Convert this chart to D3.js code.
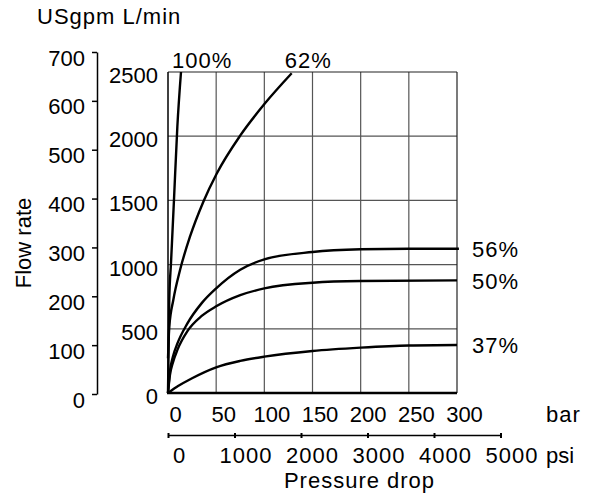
<!DOCTYPE html>
<html>
<head>
<meta charset="utf-8">
<script src="https://cdn.jsdelivr.net/npm/d3@7"></script>
<style>
  body { margin: 0; background: #fff; }
  text { font-family: "Liberation Sans", Arial, sans-serif; font-size: 22px; fill: #000; }
</style>
</head>
<body>
<svg id="chart" width="593" height="495"></svg>
<script>
// tick values for the four scales
const barTicks = [0, 50, 100, 150, 200, 250, 300];
const flowTicks = [0, 500, 1000, 1500, 2000, 2500];
const gpmTicks = [0, 100, 200, 300, 400, 500, 600, 700];
const psiTicks = [0, 1000, 2000, 3000, 4000, 5000];

// curves: pressure drop (bar) -> flow rate (L/min)
const bar100 = [0, 1.3, 3.1, 6.2, 9.7, 13.5];
const flow100 = [0, 724, 1010, 1503, 2074, 2500];
const bar62 = [0, 1.35, 5.5, 12.5, 22.8, 36.7, 50.5, 74.7, 100.7, 128.4];
const flow62 = [270, 516, 724, 958, 1217, 1490, 1708, 2002, 2256, 2490];
const bar56 = [0, 2, 5, 10, 20, 35, 50, 75, 100, 150, 200, 250, 302];
const flow56 = [0, 170, 280, 390, 540, 700, 815, 960, 1041, 1098, 1119, 1124, 1124];
const bar50 = [0, 2, 5, 10, 20, 35, 50, 75, 100, 150, 200, 300];
const flow50 = [0, 140, 235, 340, 480, 600, 675, 762, 815, 859, 872, 877];
const bar37 = [0, 5, 10, 25, 50, 75, 100, 150, 200, 250, 300];
const flow37 = [0, 28, 52, 115, 200, 250, 283, 327, 353, 370, 374];
const curveNames = ["100%", "62%", "56%", "50%", "37%"];

const svg = d3.select("#chart");

const x = d3.scaleLinear().domain([0, 300]).range([168, 457]);
const y = d3.scaleLinear().domain([0, 2500]).range([393, 72]);
const yGpm = d3.scaleLinear().domain([0, 700]).range([394, 52]);
const xPsi = d3.scaleLinear().domain([0, 5000]).range([168, 500.5]);
const plain = d => d;

// grid
svg.append("g").selectAll("line")
    .data(barTicks.slice(1, -1))
    .join("line")
    .attr("x1", d => x(d)).attr("x2", d => x(d))
    .attr("y1", y(0)).attr("y2", y(2500))
    .attr("stroke", "#555").attr("stroke-width", 1.2);
svg.append("g").selectAll("line")
    .data(flowTicks.slice(1, -1))
    .join("line")
    .attr("x1", x(0)).attr("x2", x(300))
    .attr("y1", d => y(d)).attr("y2", d => y(d))
    .attr("stroke", "#555").attr("stroke-width", 1.2);

// frame
svg.append("line").attr("x1", x(0)).attr("x2", x(300)).attr("y1", y(2500)).attr("y2", y(2500))
    .attr("stroke", "#222").attr("stroke-width", 1.2);
svg.append("line").attr("x1", x(300)).attr("x2", x(300)).attr("y1", y(0)).attr("y2", y(2500))
    .attr("stroke", "#222").attr("stroke-width", 1.2);
svg.append("line").attr("x1", x(0)).attr("x2", x(0)).attr("y1", y(0)).attr("y2", y(2500))
    .attr("stroke", "#000").attr("stroke-width", 1.5);
svg.append("line").attr("x1", x(0) - 1).attr("x2", x(300)).attr("y1", y(0)).attr("y2", y(0))
    .attr("stroke", "#000").attr("stroke-width", 2.5);

// USgpm axis
let gGpm = svg.append("g").attr("transform", "translate(97,0)")
    .call(d3.axisLeft(yGpm).tickValues(gpmTicks).tickFormat(plain)
        .tickSize(5).tickSizeOuter(0).tickPadding(7));
gGpm.select(".domain").attr("stroke-width", 1.5);
gGpm.selectAll(".tick line").attr("stroke-width", 1.5);
gGpm.selectAll("text").attr("y", 6);

// L/min labels
let gFlow = svg.append("g").attr("transform", `translate(${x(0)},0)`)
    .call(d3.axisLeft(y).tickValues(flowTicks).tickFormat(plain).tickSize(0).tickPadding(10));
gFlow.select(".domain").remove();
gFlow.selectAll("text").attr("y", 3.5);

// bar labels
let gBar = svg.append("g").attr("transform", `translate(0,${y(0)})`)
    .call(d3.axisBottom(x).tickValues(barTicks).tickFormat(plain).tickSize(0).tickPadding(13));
gBar.select(".domain").remove();
gBar.selectAll("text").attr("dx", 7);

// psi axis
let gPsi = svg.append("g").attr("transform", "translate(0,435)")
    .call(d3.axisBottom(xPsi).tickValues(psiTicks).tickFormat(plain)
        .tickSize(3).tickSizeOuter(0).tickPadding(9.5));
gPsi.select(".domain").attr("stroke-width", 1.5);
gPsi.selectAll(".tick line").attr("y1", -2).attr("stroke-width", 2);
gPsi.selectAll("text").attr("dx", 11).style("letter-spacing", "1px");

// unit and axis titles
svg.append("text").attr("x", 37).attr("y", 24).style("letter-spacing", "1px").text("USgpm L/min");
svg.append("text").attr("transform", "translate(31,243) rotate(-90)")
    .attr("text-anchor", "middle").text("Flow rate");
svg.append("text").attr("x", 546).attr("y", 421.7).style("letter-spacing", "1px").text("bar");
svg.append("text").attr("x", 546).attr("y", 463).text("psi");
svg.append("text").attr("x", 359.5).attr("y", 488).attr("text-anchor", "middle")
    .style("letter-spacing", "1px").text("Pressure drop");

// curves
const curves = [
    d3.zip(bar100, flow100),
    d3.zip(bar62, flow62),
    d3.zip(bar56, flow56),
    d3.zip(bar50, flow50),
    d3.zip(bar37, flow37)
];
const line = d3.line()
    .x(d => x(d[0]))
    .y(d => y(d[1]))
    .curve(d3.curveMonotoneX);

svg.append("g").selectAll("path")
    .data(curves)
    .join("path")
    .attr("d", line)
    .attr("fill", "none")
    .attr("stroke", "#000")
    .attr("stroke-width", 2.4);

// curve labels: the steep ones above the frame, the flat ones at the right
curves.forEach((c, i) => {
    const last = c[c.length - 1];
    const t = svg.append("text").style("letter-spacing", "1px").text(curveNames[i]);
    if (last[0] < 200) {
        t.attr("x", x(last[0]) + (i === 0 ? -9 : -7)).attr("y", 68.3);
    } else {
        t.attr("x", x(300) + 15).attr("y", y(last[1]) + 8.5);
    }
});
</script>
</body>
</html>
